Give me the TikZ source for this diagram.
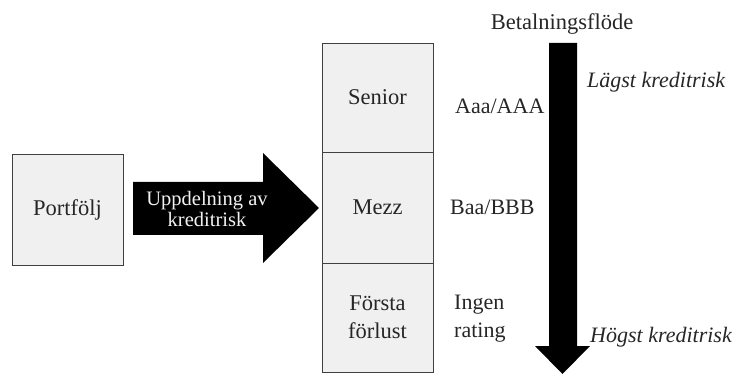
\documentclass[tikz,border=0pt]{standalone}
\usepackage{fontspec}
\setmainfont{Liberation Serif}
\begin{document}
\begin{tikzpicture}[x=1pt,y=-1pt,
  tranche/.style={draw=black!75, fill=black!6, line width=0.9pt, minimum width=111pt, inner sep=0pt, align=center, font=\fontsize{22.5}{28}\selectfont, text=black!85},
  lbl/.style={inner sep=0pt, anchor=west, align=left, font=\fontsize{22}{28}\selectfont, text=black!85},
  ilbl/.style={lbl, font=\fontsize{22}{28}\selectfont\itshape}]
\useasboundingbox (0,0) rectangle (739,374);
% Portfolio box
\node[tranche, minimum height=111pt] (portf) at (67.5,209.5) {Portfölj};
% tranches
\node[tranche, minimum height=109pt] (senior) at (377.5,97.5) {Senior};
\node[tranche, minimum height=111pt] (mezz) at (377.5,207.5) {Mezz};
\node[tranche, minimum height=109pt] (forsta) at (377.5,317.5) {Första\\förlust};
% big right arrow
\fill[black] (133,182) -- (263,182) -- (263,153) -- (319,208) -- (263,263) -- (263,235) -- (133,235) -- cycle;
\node[inner sep=0pt, align=center, text=black!5, font=\fontsize{20.5}{21}\selectfont] (upp) at (207,209) {Uppdelning av\\kreditrisk};
% vertical arrow
\fill[black] (549,43) -- (577,43) -- (577,346) -- (590,346) -- (562.5,374) -- (535,346) -- (549,346) -- cycle;
\node[inner sep=0pt, font=\fontsize{22.5}{28}\selectfont, text=black!85] (flow) at (562,24) {Betalningsflöde};
\node[ilbl] (lagst) at (587,82) {Lägst kreditrisk};
\node[ilbl] (hogst) at (590,337) {Högst kreditrisk};
\node[lbl] (aaa) at (455,106) {Aaa/AAA};
\node[lbl] (baa) at (450,207) {Baa/BBB};
\node[lbl] (ingen) at (454,319) {Ingen\\rating};
\end{tikzpicture}
\end{document}
